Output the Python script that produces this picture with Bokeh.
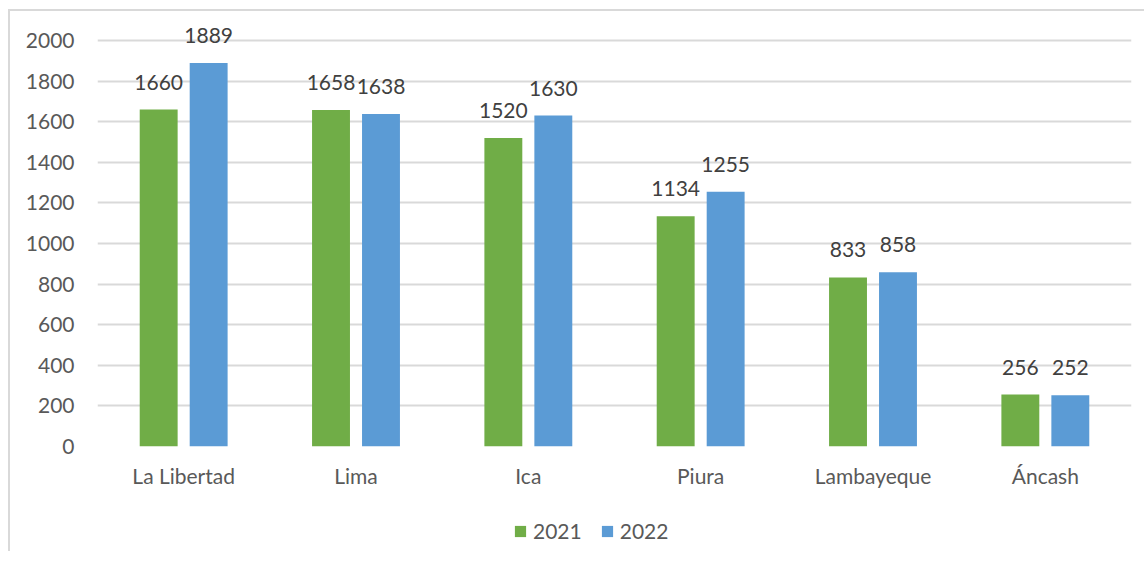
from bokeh.plotting import figure
from bokeh.models import ColumnDataSource, Legend, LegendItem, LabelSet
from bokeh.layouts import column
from bokeh.transform import dodge
from bokeh.embed import file_html
from bokeh.resources import INLINE
from bokeh.core.properties import value

regions = ["La Libertad", "Lima", "Ica", "Piura", "Lambayeque", "Áncash"]
v2021 = [1660, 1658, 1520, 1134, 833, 256]
v2022 = [1889, 1638, 1630, 1255, 858, 252]
yticks = [0, 200, 400, 600, 800, 1000, 1200, 1400, 1600, 1800, 2000]
series = ["2021", "2022"]
colors = ["#70AD47", "#5B9BD5"]

src = ColumnDataSource(dict(
    x=regions, a=v2021, b=v2022,
    la=[str(v) for v in v2021], lb=[str(v) for v in v2022]))

FONT = "Lato"
FS = "21px"
# y range extends above 2000 so the top data label is not clipped; only ticks to 2000
p = figure(x_range=regions, y_range=(0, 2128), width=1134, height=495,
           output_backend="svg", toolbar_location=None,
           min_border_left=87, min_border_right=13, min_border_top=3, min_border_bottom=60)

r1 = p.vbar(x=dodge("x", -0.145, range=p.x_range), top="a", width=0.22, source=src,
            fill_color=colors[0], line_color=None)
r2 = p.vbar(x=dodge("x", 0.145, range=p.x_range), top="b", width=0.22, source=src,
            fill_color=colors[1], line_color=None)

for col, lab, off in (("a", "la", -0.145), ("b", "lb", 0.145)):
    p.add_layout(LabelSet(x=dodge("x", off, range=p.x_range), y=col, text=lab, source=src,
                          text_align="center", text_baseline="bottom", y_offset=20,
                          text_font=value(FONT), text_font_size=FS, text_color="#404040"))

p.yaxis.ticker = yticks
p.xaxis.axis_line_color = None
p.yaxis.axis_line_color = None
p.xaxis.major_tick_line_color = None
p.yaxis.major_tick_line_color = None
p.xaxis.minor_tick_line_color = None
p.yaxis.minor_tick_line_color = None
for ax in (p.xaxis, p.yaxis):
    ax.major_label_text_font = FONT
    ax.major_label_text_font_size = FS
    ax.major_label_text_color = "#595959"
p.yaxis.major_label_standoff = 17
p.xaxis.major_label_standoff = 10
p.xgrid.grid_line_color = None
p.ygrid.grid_line_color = "#d9d9d9"
p.ygrid.grid_line_width = 2
p.outline_line_color = None
p.x_range.range_padding = 0

# legend strip (its frame is aligned with the main plot's frame by the column layout)
p2 = figure(width=1134, height=45, x_range=(0, 1), y_range=(0, 1),
            x_axis_location=None, y_axis_location=None,
            output_backend="svg", toolbar_location=None,
            min_border_left=0, min_border_right=0, min_border_top=0, min_border_bottom=0)
p2.grid.visible = False
p2.outline_line_color = None
dummy = ColumnDataSource(dict(x=[0.0], top=[0.0]))
lr1 = p2.vbar(x="x", top="top", bottom=0, width=0.0, source=dummy,
              fill_color=colors[0], line_color=None)
lr2 = p2.vbar(x="x", top="top", bottom=0, width=0.0, source=dummy,
              fill_color=colors[1], line_color=None)
legend = Legend(items=[LegendItem(label=series[0], renderers=[lr1]),
                       LegendItem(label=series[1], renderers=[lr2])],
                orientation="horizontal", location=(416, 8),
                label_text_font=FONT, label_text_font_size=FS, label_text_color="#595959",
                glyph_width=14, glyph_height=14, spacing=18, label_standoff=6,
                border_line_color=None, background_fill_alpha=0, margin=0, padding=0)
p2.add_layout(legend)

lay = column(p, p2, spacing=0)
lay.margin = (9, 0, 0, 8)
lay.styles = {"border-top": "2px solid #d9d9d9", "border-left": "2px solid #d9d9d9"}

open("out.html", "w").write(file_html(lay, INLINE))
